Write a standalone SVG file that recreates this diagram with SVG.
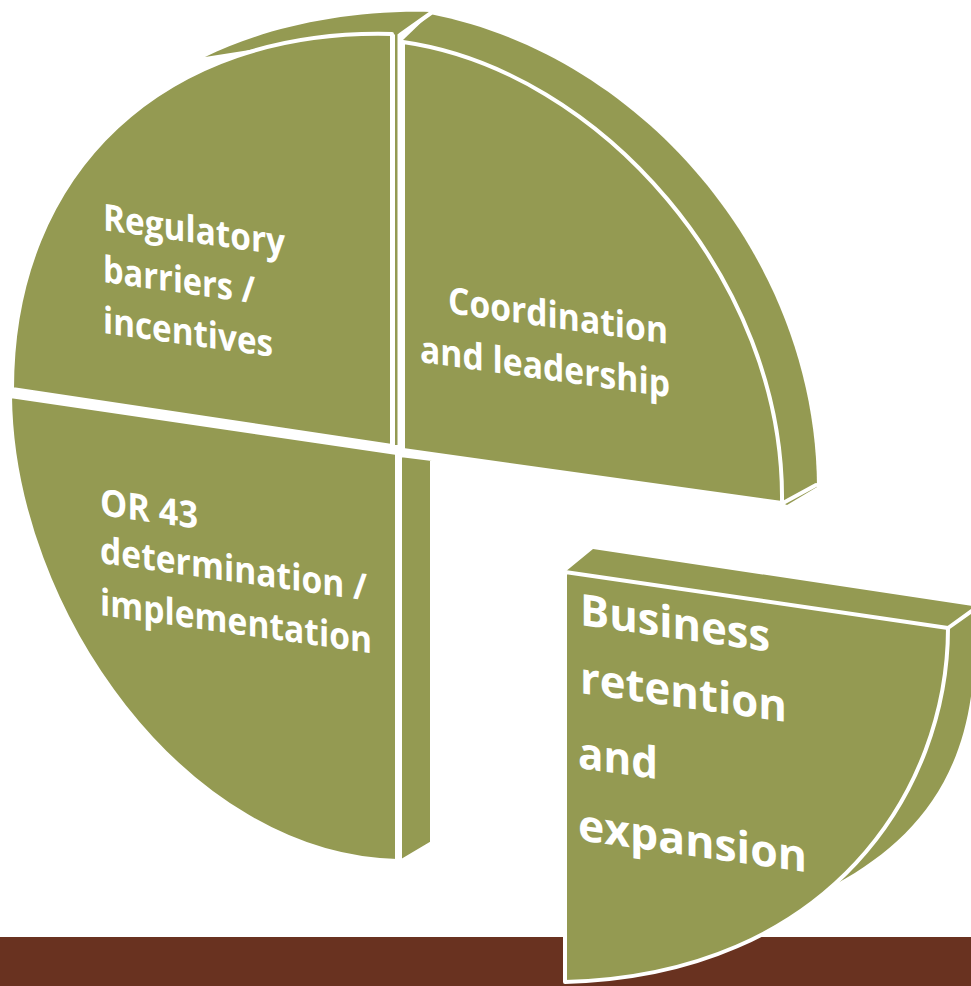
<svg xmlns="http://www.w3.org/2000/svg" width="971" height="986" viewBox="0 0 971 986">
<style>
.face{fill:#949A52;stroke:#fff;stroke-width:4;stroke-linejoin:round}
.depth{fill:#949A52}
.edge{stroke:#fff;stroke-width:4;stroke-linecap:round;fill:none}
.lbl{font-family:"Open Sans","Noto Sans",sans-serif;font-weight:700;fill:#fff;font-size:37px}
.big{font-size:44px}
</style>
<rect width="971" height="986" fill="#fff"/>
<rect id="floor" x="0" y="937" width="971" height="49" fill="#693220"/>
<g id="connectors"/>
<g id="tl">
  <path class="depth" d="M205,57 C260,30 340,10 430,12 L400,34 L300,42 Z"/>
  <rect class="depth" x="395" y="32" width="2.5" height="413"/>
  <path class="face" d="M392,34 C165,28 12,170 12,389 L392,446 Z"/>
  <text class="lbl" transform="translate(103,230) skewY(8)" textLength="182" lengthAdjust="spacingAndGlyphs">Regulatory</text>
  <text class="lbl" transform="translate(103,282) skewY(8)" textLength="152" lengthAdjust="spacingAndGlyphs">barriers /</text>
  <text class="lbl" transform="translate(103,333) skewY(8)" textLength="170" lengthAdjust="spacingAndGlyphs">incentives</text>
</g>
<g id="tr">
  <path class="depth" d="M403,40 L430,14 C640,55 816,255 817,487 L787,505 L600,420 Z"/>
  <path class="face" d="M403,42 C600,70 785,280 782,503 L403,450 Z"/>
  <line class="edge" x1="400" y1="35" x2="431" y2="13"/>
  <line class="edge" x1="783" y1="503" x2="816" y2="485"/>
  <text class="lbl" transform="translate(448,313) skewY(8)" textLength="220" lengthAdjust="spacingAndGlyphs">Coordination</text>
  <text class="lbl" transform="translate(420,362) skewY(8)" textLength="250" lengthAdjust="spacingAndGlyphs">and leadership</text>
</g>
<g id="bl">
  <path class="face" d="M400,455 L432,459 L432,843 L400,862 Z"/>
  <path class="face" d="M10,396 L397,453 L397,861 C185,856 12,610 10,396 Z"/>
  <text class="lbl" transform="translate(100,515) skewY(8)" textLength="98" lengthAdjust="spacingAndGlyphs">OR 43</text>
  <text class="lbl" transform="translate(100,563) skewY(8)" textLength="267" lengthAdjust="spacingAndGlyphs">determination /</text>
  <text class="lbl" transform="translate(100,615) skewY(8)" textLength="272" lengthAdjust="spacingAndGlyphs">implementation</text>
</g>
<g id="br">
  <path class="depth" d="M565,572 L593,549 L973,606 C985,760 925,835 836,884 L820,860 L700,800 Z"/>
  <path class="face" d="M565,572 L948,628 C948,790 830,975 565,982 Z"/>
  <line class="edge" x1="948" y1="628" x2="973" y2="610"/>
  <text class="lbl big" transform="translate(580,625) skewY(8)" textLength="190" lengthAdjust="spacingAndGlyphs">Business</text>
  <text class="lbl big" transform="translate(580,693) skewY(8)" textLength="207" lengthAdjust="spacingAndGlyphs">retention</text>
  <text class="lbl big" transform="translate(578,768) skewY(8)" textLength="80" lengthAdjust="spacingAndGlyphs">and</text>
  <text class="lbl big" transform="translate(578,840) skewY(8)" textLength="229" lengthAdjust="spacingAndGlyphs">expansion</text>
</g>
</svg>
